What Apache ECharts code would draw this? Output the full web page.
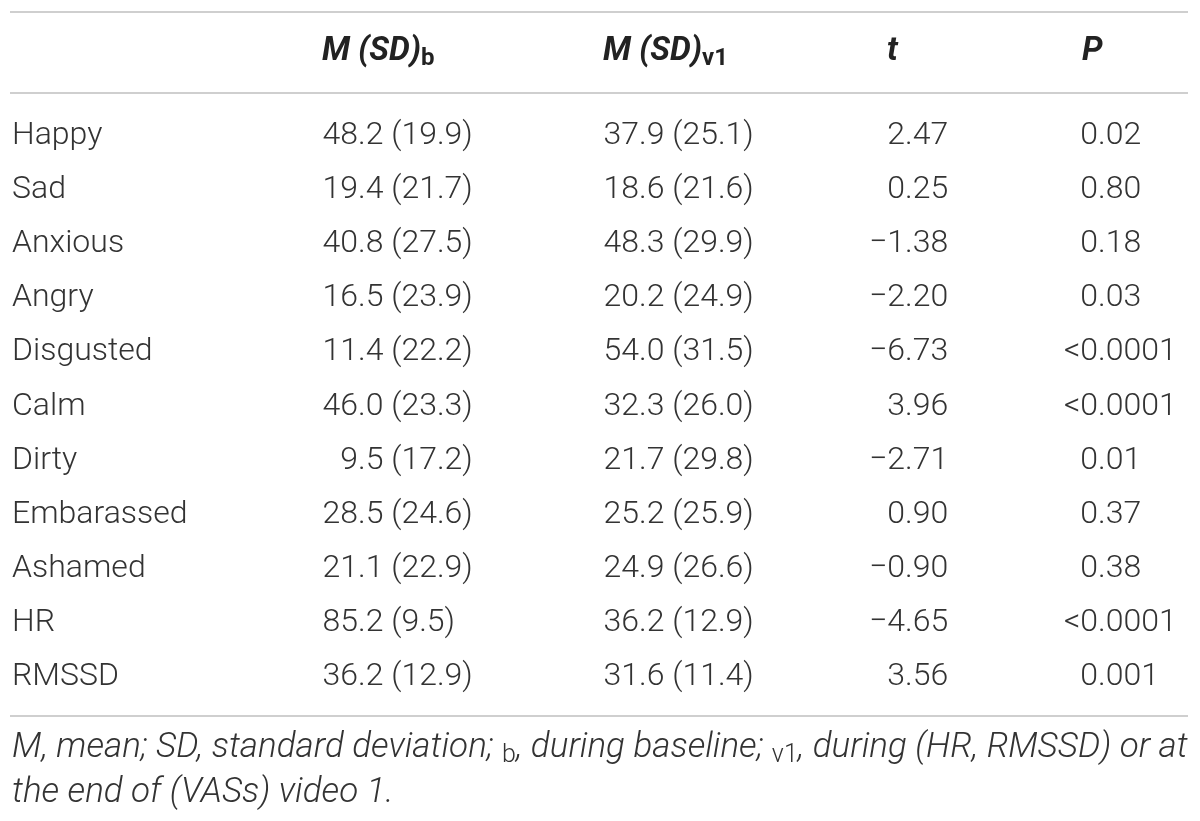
<!DOCTYPE html>
<html>
<head>
<meta charset="utf-8">
<script src="https://cdn.jsdelivr.net/npm/echarts@6/dist/echarts.min.js"></script>
<style>
    html, body { margin: 0; padding: 0; background: #fff; }
    #main { width: 1200px; height: 821px; }
</style>
</head>
<body>
<div id="main"></div>
<script>
// table values
var rowNames = ['Happy', 'Sad', 'Anxious', 'Angry', 'Disgusted', 'Calm', 'Dirty', 'Embarassed', 'Ashamed', 'HR', 'RMSSD'];
var meanB = [48.2, 19.4, 40.8, 16.5, 11.4, 46.0, 9.5, 28.5, 21.1, 85.2, 36.2];
var sdB = [19.9, 21.7, 27.5, 23.9, 22.2, 23.3, 17.2, 24.6, 22.9, 9.5, 12.9];
var meanV1 = [37.9, 18.6, 48.3, 20.2, 54.0, 32.3, 21.7, 25.2, 24.9, 36.2, 31.6];
var sdV1 = [25.1, 21.6, 29.9, 24.9, 31.5, 26.0, 29.8, 25.9, 26.6, 12.9, 11.4];
var tVals = [2.47, 0.25, -1.38, -2.20, -6.73, 3.96, -2.71, 0.90, -0.90, -4.65, 3.56];
var pVals = ['0.02', '0.80', '0.18', '0.03', '<0.0001', '<0.0001', '0.01', '0.37', '0.38', '<0.0001', '0.001'];

var FONT = 'Roboto, "Liberation Sans", sans-serif';
var TXT = '#333';
var SIZE = 32;

var chart = echarts.init(document.getElementById('main'));

// x anchors: row label left edge, then decimal points of each numeric column
var colLabelX = 12;
var decX = [358, 639, 905, 1098];
var headX = [322, 603, 887, 1082];

function fmtMsd(m, s) {
    return m.toFixed(1) + ' (' + s.toFixed(1) + ')';
}

function fmtT(v) {
    return v.toFixed(2).replace('-', '\u2212');
}

function cellTexts(i) {
    return [fmtMsd(meanB[i], sdB[i]), fmtMsd(meanV1[i], sdV1[i]), fmtT(tVals[i]), pVals[i]];
}

function txt(x, y, s, align) {
    return {
        type: 'text',
        x: x,
        y: y,
        style: {
            text: s,
            fill: TXT,
            fontSize: SIZE,
            fontWeight: 300,
            fontFamily: FONT,
            align: align,
            verticalAlign: 'middle'
        }
    };
}

function renderRow(params, api) {
    var idx = api.value(1);
    var y = api.coord([0, idx])[1];
    var children = [txt(api.coord([colLabelX, idx])[0], y, rowNames[idx], 'left')];
    cellTexts(idx).forEach(function(s, c) {
        var x = api.coord([decX[c], idx])[0];
        var k = s.indexOf('.');
        // split on the decimal point so the column lines up
        children.push(txt(x, y, s.slice(0, k), 'right'));
        children.push(txt(x, y, s.slice(k), 'left'));
    });
    return { type: 'group', children: children };
}

function headText(x, main, sub) {
    return {
        type: 'text',
        x: x,
        y: 52,
        style: {
            text: '{m|' + main + '}' + (sub ? '{s|' + sub + '}' : ''),
            verticalAlign: 'middle',
            align: 'left',
            rich: {
                m: { fontSize: 33, fontWeight: 'bold', fontStyle: 'italic', fontFamily: FONT, fill: '#222', lineHeight: 38 },
                s: { fontSize: 24, fontWeight: 'bold', fontFamily: FONT, fill: '#222', lineHeight: 22, verticalAlign: 'bottom' }
            }
        }
    };
}

function rule(y) {
    return {
        type: 'line',
        shape: { x1: 10, y1: y, x2: 1188, y2: y },
        style: { stroke: '#cfcfcf', lineWidth: 2 }
    };
}

var noteRich = {
    i: { fontSize: 35, fontStyle: 'italic', fontWeight: 300, fontFamily: FONT, fill: TXT, lineHeight: 40 },
    s: { fontSize: 25, fontWeight: 300, fontFamily: FONT, fill: TXT, lineHeight: 22, verticalAlign: 'bottom' }
};

var option = {
    animation: false,
    backgroundColor: '#fff',
    grid: { left: 0, right: 0, top: 109, bottom: 117 },
    xAxis: { type: 'value', min: 0, max: 1200, show: false },
    yAxis: { type: 'category', data: rowNames, inverse: true, show: false },
    series: [{
        type: 'custom',
        renderItem: renderRow,
        encode: { x: 0, y: 1 },
        data: rowNames.map(function(n, i) { return [0, i]; })
    }],
    graphic: [
        rule(12),
        rule(93),
        rule(716),
        headText(headX[0], 'M (SD)', 'b'),
        headText(headX[1], 'M (SD)', 'v1'),
        headText(headX[2], 't'),
        headText(headX[3], 'P'),
        {
            type: 'text',
            x: 12,
            y: 748,
            style: {
                text: '{i|M, mean; SD, standard deviation; }{s|b}{i|, during baseline; }{s|v1}{i|, during (HR, RMSSD) or at}',
                verticalAlign: 'middle',
                rich: noteRich
            }
        },
        {
            type: 'text',
            x: 12,
            y: 793,
            style: {
                text: '{i|the end of (VASs) video 1.}',
                verticalAlign: 'middle',
                rich: noteRich
            }
        }
    ]
};

chart.setOption(option);
</script>
</body>
</html>
